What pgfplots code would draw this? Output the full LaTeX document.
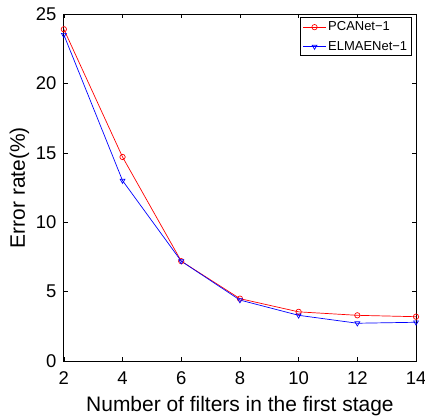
\documentclass[border=0pt]{standalone}
\usepackage{pgfplots}
\pgfplotsset{compat=1.18}
\usepackage{fontspec}
\setmainfont{Liberation Sans}
\begin{document}
\begin{tikzpicture}
\begin{axis}[
  at={(0,0)}, anchor=south west,
  width=353pt, height=348pt, scale only axis,
  xmin=2, xmax=14, ymin=0, ymax=25,
  xtick={2,4,...,14}, ytick={0,5,...,25},
  tick align=inside, major tick length=4pt,
  /pgf/number format/assume math mode=true,
  tick label style={font=\fontsize{18.5}{21}\selectfont},
  xticklabel style={yshift=-7pt},
  yticklabel style={xshift=-4pt},
  label style={font=\fontsize{21}{24}\selectfont},
  xlabel={Number of filters in the first stage},
  ylabel={Error rate(\%)},
  xlabel style={at={(axis description cs:0.5,0)}, anchor=base, yshift=-50pt},
  ylabel style={at={(axis description cs:0,0.5)}, anchor=base, yshift=39pt},
  axis line style={line width=0.8pt},
  every tick/.style={black, line width=0.6pt},
  legend style={at={(0.9875,0.99)}, anchor=north east, font=\fontsize{13}{15}\selectfont, draw=black, line width=0.9pt, inner sep=2pt, row sep=5pt},
  legend image code/.code={\draw[mark repeat=2,mark phase=2] plot coordinates {(0cm,0cm) (0.4cm,0cm) (0.8cm,0cm)};},
  legend cell align=left,
]
\addplot[red, mark=o, mark size=2.7pt, line width=0.7pt] coordinates {
(2,23.9) (4,14.7) (6,7.2) (8,4.5) (10,3.55) (12,3.3) (14,3.2)};
\addlegendentry{PCANet−1}
\addplot[blue, mark=triangle, mark options={rotate=180}, mark size=2.8pt, line width=0.7pt] coordinates {
(2,23.5) (4,13.0) (6,7.2) (8,4.4) (10,3.3) (12,2.73) (14,2.8)};
\addlegendentry{ELMAENet−1}
\end{axis}
\pgfresetboundingbox
\path (-64pt,-55pt) rectangle (362pt,362pt);
\end{tikzpicture}
\end{document}
